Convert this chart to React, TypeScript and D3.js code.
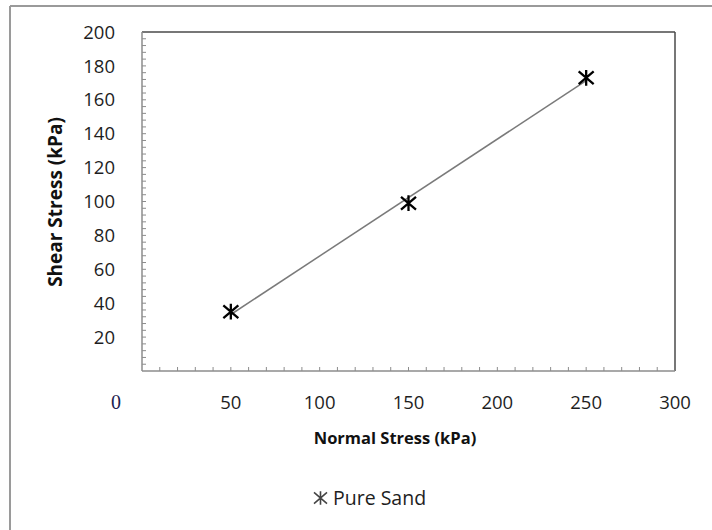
import React from "react";
import * as d3 from "d3";

const normalStress = [50, 150, 250];
const shearStress = [35, 99, 173];
const xTickLabels = [50, 100, 150, 200, 250, 300];
const yTickLabels = [20, 40, 60, 80, 100, 120, 140, 160, 180, 200];
const seriesName = "Pure Sand";

const W = 712;
const H = 530;
const plot = { left: 142, right: 675, top: 32, bottom: 371 };

const FONT = "'Open Sans', 'Noto Sans', sans-serif";

function starPath(cx: number, cy: number, s: number): string {
  const p = d3.path();
  p.moveTo(cx, cy - s * 1.05);
  p.lineTo(cx, cy + s * 1.05);
  p.moveTo(cx - s, cy - s * 0.85);
  p.lineTo(cx + s, cy + s * 0.85);
  p.moveTo(cx - s, cy + s * 0.85);
  p.lineTo(cx + s, cy - s * 0.85);
  return p.toString();
}

export default function App() {
  const x = d3.scaleLinear().domain([0, 300]).range([plot.left, plot.right]);
  const y = d3.scaleLinear().domain([0, 200]).range([plot.bottom, plot.top]);

  // linear trendline (least squares)
  const mx = d3.mean(normalStress)!;
  const my = d3.mean(shearStress)!;
  const num = d3.sum(normalStress.map((v, i) => (v - mx) * (shearStress[i] - my)));
  const den = d3.sum(normalStress.map((v) => (v - mx) * (v - mx)));
  const slope = num / den;
  const icpt = my - slope * mx;
  const x0 = d3.min(normalStress)!;
  const x1 = d3.max(normalStress)!;
  const trend = d3.line<number>().x((v) => x(v)).y((v) => y(icpt + slope * v));

  const xMinor = d3.range(10, 300, 10);
  const yMinor = d3.range(4, 200, 4);

  return (
    <svg
      width={W}
      height={H}
      style={{ position: "fixed", left: 0, top: 0, background: "#fff" }}
    >
      <rect x={0} y={0} width={W} height={H} fill="#fff" />
      {/* outer border (top & left) */}
      <line x1={10} y1={6} x2={W} y2={6} stroke="#9a9a9a" strokeWidth={2} />
      <line x1={10} y1={6} x2={10} y2={H} stroke="#9a9a9a" strokeWidth={2} />

      {/* plot frame top/right */}
      <line x1={plot.left} y1={plot.top} x2={plot.right} y2={plot.top} stroke="#4a4a4a" strokeWidth={1.5} />
      <line x1={plot.right} y1={plot.top} x2={plot.right} y2={plot.bottom} stroke="#4a4a4a" strokeWidth={1.5} />

      {/* axes */}
      <line x1={plot.left} y1={plot.top} x2={plot.left} y2={plot.bottom} stroke="#8c8c8c" strokeWidth={1.5} />
      <line x1={plot.left} y1={plot.bottom} x2={plot.right} y2={plot.bottom} stroke="#8c8c8c" strokeWidth={1.5} />

      {xMinor.map((v) => (
        <line key={"xm" + v} x1={x(v)} x2={x(v)} y1={plot.bottom} y2={plot.bottom - 4} stroke="#8c8c8c" strokeWidth={1} />
      ))}
      {yMinor.map((v) => (
        <line key={"ym" + v} x1={plot.left} x2={plot.left + 4} y1={y(v)} y2={y(v)} stroke="#8c8c8c" strokeWidth={1} />
      ))}

      {/* y tick labels */}
      {yTickLabels.map((v) => (
        <text key={"yl" + v} x={115} y={y(v)} dy="0.36em" textAnchor="end" fontFamily={FONT} fontSize={18.5} fill="#1e1e1e">
          {v}
        </text>
      ))}
      {/* x tick labels */}
      <text x={116} y={409} textAnchor="middle" fontFamily="'Liberation Serif', 'DejaVu Serif', serif" fontSize={20} fill="#1c2350">
        0
      </text>
      {xTickLabels.map((v) => (
        <text key={"xl" + v} x={x(v)} y={409} textAnchor="middle" fontFamily={FONT} fontSize={18.5} fill="#1e1e1e">
          {v}
        </text>
      ))}

      {/* axis titles */}
      <text x={395} y={444} textAnchor="middle" fontFamily={FONT} fontWeight="bold" fontSize={16.5} fill="#111">
        Normal Stress (kPa)
      </text>
      <text
        transform={`translate(62,202) rotate(-90)`}
        textAnchor="middle"
        fontFamily={FONT}
        fontWeight="bold"
        fontSize={19}
        fill="#111"
      >
        Shear Stress (kPa)
      </text>

      {/* trendline */}
      <path d={trend([x0, x1]) || ""} fill="none" stroke="#7a7a7a" strokeWidth={1.5} />

      {/* markers */}
      {normalStress.map((v, i) => (
        <path key={"m" + i} d={starPath(x(v), y(shearStress[i]), 7.5)} stroke="#000" strokeWidth={2.3} fill="none" />
      ))}

      {/* legend */}
      <path d={starPath(320.5, 498, 6.5)} stroke="#444" strokeWidth={1.6} fill="none" />
      <text x={333} y={498} dy="0.36em" fontFamily={FONT} fontSize={19.5} fill="#1e1e1e">
        {seriesName}
      </text>
    </svg>
  );
}
